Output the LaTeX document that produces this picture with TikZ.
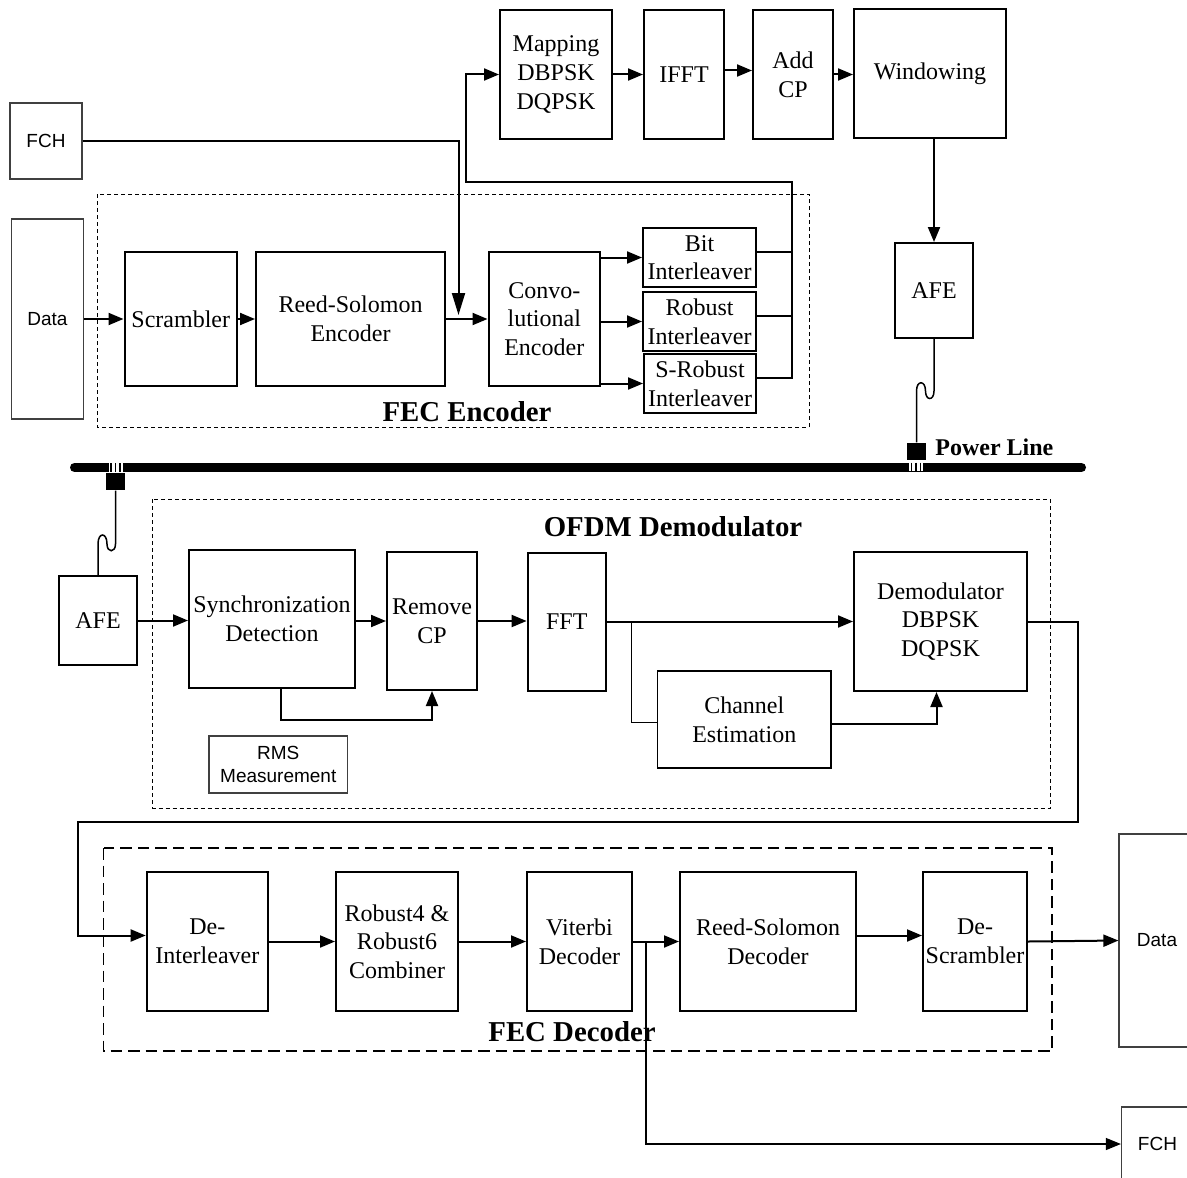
\documentclass[tikz,border=0pt]{standalone}
\usepackage{fontspec}
\setmainfont{Liberation Serif}
\setsansfont{Liberation Sans}
\usetikzlibrary{arrows.meta}

\tikzset{
    sz/.style 2 args={minimum width=#1*0.5pt, minimum height=#2*0.5pt},
    blk/.style={draw, line width=1pt, align=center, inner sep=0pt, font=\fontsize{12}{14.3}\selectfont},
    src/.style={draw=black!75, line width=0.6pt, align=center, inner sep=0pt, font=\sffamily\fontsize{9.5}{11.5}\selectfont},
    ln/.style={line width=1pt},
    thinln/.style={line width=0.6pt},
    wire/.style={line width=0.75pt},
    tip/.style={-{Triangle[length=7.5pt,width=6pt]}},
    arr/.style={ln, tip},
    grp/.style={draw, line width=0.5pt, dash pattern=on 2pt off 1.5pt},
    grpbig/.style={draw, line width=0.8pt, dash pattern=on 5.75pt off 3pt},
    title/.style={font=\bfseries\fontsize{14.4}{16}\selectfont, inner sep=0pt},
    plug/.style={fill=black, inner sep=0pt, sz={19}{17.5}}
}

\begin{document}
\begin{tikzpicture}[x=0.5pt, y=-0.5pt]
  \useasboundingbox (0,0) rectangle (1187,1177);

  % group frames
  \draw[grp] (97,194) rectangle (809,427);
  \draw[grp] (152.5,499) rectangle (1050,808);
  \draw[grpbig] (103.5,848) rectangle (1052,1051);

  % transmitter
  \node[src, sz={72}{76}] (fchT) at (46,141) {FCH};
  \node[src, sz={72}{200}] (dataT) at (47.5,319) {Data};
  \node[blk, sz={112.5}{134}] (scr) at (180.75,319) {Scrambler};
  \node[blk, sz={189}{134}] (rsenc) at (350.5,319) {Reed-Solomon\\Encoder};
  \node[blk, sz={111.5}{134}] (conv) at (544.25,319) {Convo-\\lutional\\Encoder};
  \node[blk, sz={113}{59}] (bitint) at (699.5,257.5) {Bit\\Interleaver};
  \node[blk, sz={113}{59}] (robint) at (699.5,321.5) {Robust\\Interleaver};
  \node[blk, sz={112}{59}] (srint) at (700,383.5) {S-Robust\\Interleaver};
  \node[blk, sz={112}{129}] (map) at (556,74.5) {Mapping\\DBPSK\\DQPSK};
  \node[blk, sz={80}{129}] (ifft) at (684,74.5) {IFFT};
  \node[blk, sz={80}{129}] (addcp) at (793,74.5) {Add\\CP};
  \node[blk, sz={152}{129}] (win) at (930,73.5) {Windowing};
  \node[blk, sz={78}{95}] (afeT) at (934,290.5) {AFE};
  \node[title] (encT) at (467,412) {FEC Encoder};

  \coordinate (fchin) at (458.5,315);
  \coordinate (bus) at (792,182);
  \coordinate (loopx) at (466,182);
  \draw[ln, -{Triangle[length=11pt,width=6.5pt]}] (fchT.east) -| (fchin);
  \draw[arr] (dataT.east) -- (scr.west);
  \draw[arr] (scr.east) -- (rsenc.west);
  \draw[arr] (rsenc.east) -- (conv.west);
  \draw[arr] (conv.east |- bitint) -- (bitint.west);
  \draw[arr] (conv.east |- robint) -- (robint.west);
  \draw[arr] (conv.east |- srint) -- (srint.west);
  \draw[ln] ([yshift=3pt]bitint.east) -- ([yshift=3pt]bitint.east -| bus);
  \draw[ln] ([yshift=3pt]robint.east) -- ([yshift=3pt]robint.east -| bus);
  \draw[arr] ([yshift=3pt]srint.east) -| (bus) -- (loopx) |- (map.west);
  \draw[arr] (map.east) -- (ifft.west);
  \draw[arr] ([yshift=2pt]ifft.east) -- ([yshift=2pt]addcp.west);
  \draw[arr] (addcp.east) -- (addcp.east -| win.west);
  \draw[arr] (win.south -| afeT) -- (afeT.north);

  % power line
  \draw[line width=4.5pt, line cap=round] (74.5,467.5) -- (1081.5,467.5);
  \node[font=\bfseries\fontsize{12}{14}\selectfont, inner sep=0pt, anchor=west] (pwrT) at (935,447) {Power Line};
  \node[plug] (plugT) at (916.5,451.5) {};
  \node[plug] (plugL) at (115.5,481.5) {};
  \fill[white] (909,462.5) rectangle (923,471);
  \fill[white] (108.5,463) rectangle (122.5,471.5);
  \foreach \px in {911.5,916,920.5} \draw[line width=0.7pt] (\px,462.5) -- (\px,471);
  \foreach \px in {111,115.5,120} \draw[line width=0.7pt] (\px,463) -- (\px,471.5);
  \draw[wire] (afeT.south) -- (934,391) .. controls (934,401) and (925.5,401) .. (925.5,391)
    .. controls (925.5,380) and (916.5,380) .. (916.5,391) -- (plugT.north);
  \draw[wire] (plugL.south) -- (115.5,544) .. controls (115.5,553) and (107,553) .. (107,544)
    .. controls (107,532) and (98,532) .. (98,544) -- (98,576);

  % receiver
  \node[blk, sz={78}{89}] (afeR) at (98,620.5) {AFE};
  \node[blk, sz={166}{138}] (sync) at (272,619) {Synchronization\\Detection};
  \node[blk, sz={90}{138}] (remcp) at (432,621) {Remove\\CP};
  \node[blk, sz={78.4}{138}] (fft) at (566.8,622) {FFT};
  \node[blk, sz={173}{139}] (demod) at (940.5,621.5) {Demodulator\\DBPSK\\DQPSK};
  \node[blk, line width=0.8pt, sz={173.5}{97}] (chest) at (744.25,719.5) {Channel\\Estimation};
  \node[src, sz={138.5}{57}] (rms) at (278.25,764.5) {RMS\\Measurement};
  \node[title] (ofdmT) at (673,527) {OFDM Demodulator};

  \coordinate (fftbr) at (631.5,621.5);
  \coordinate (dm1) at (1078,821.5);
  \coordinate (dm2) at (78,821.5);
  \draw[arr] (afeR.east) -- (afeR.east -| sync.west);
  \draw[arr] (sync.east |- remcp) -- (remcp.west);
  \draw[arr] (remcp.east) -- (remcp.east -| fft.west);
  \draw[arr] (fft.east |- demod) -- (demod.west);
  \draw[arr] ([xshift=4.5pt]sync.south) |- ([yshift=-14.5pt]remcp.south) -- (remcp.south);
  \draw[thinln] (fftbr) |- ([yshift=-1.5pt]chest.west);
  \draw[arr] ([yshift=-2pt]chest.east) -| ([xshift=-2pt]demod.south);

  % decoder
  \node[blk, sz={121.3}{139}] (deint) at (207.35,941.5) {De-\\Interleaver};
  \node[blk, sz={122}{139}] (comb) at (397,941.5) {Robust4 \&\\Robust6\\Combiner};
  \node[blk, sz={105}{139}] (vit) at (579.5,941.5) {Viterbi\\Decoder};
  \node[blk, sz={176}{139}] (rsdec) at (768,941.5) {Reed-Solomon\\Decoder};
  \node[blk, sz={104}{139}] (descr) at (975,941.5) {De-\\Scrambler};
  \node[src, sz={76}{213}] (dataR) at (1157,940.5) {Data};
  \node[src, sz={72}{74}] (fchR) at (1157.5,1144) {FCH};
  \node[title] (decT) at (572,1032) {FEC Decoder};

  \coordinate (vitbr) at (646,941.5);
  \draw[arr] (demod.east) -| (dm1) -- (dm2) |- ([yshift=3pt]deint.west);
  \draw[arr] (deint.east) -- (comb.west);
  \draw[arr] (comb.east) -- (vit.west);
  \draw[arr] (vit.east) -- (rsdec.west);
  \draw[arr] ([yshift=3pt]rsdec.east) -- ([yshift=3pt]descr.west);
  \draw[arr] (descr.east) -- (dataR.west);
  \draw[thinln, tip] (vitbr) |- (fchR.west);
\end{tikzpicture}
\end{document}
